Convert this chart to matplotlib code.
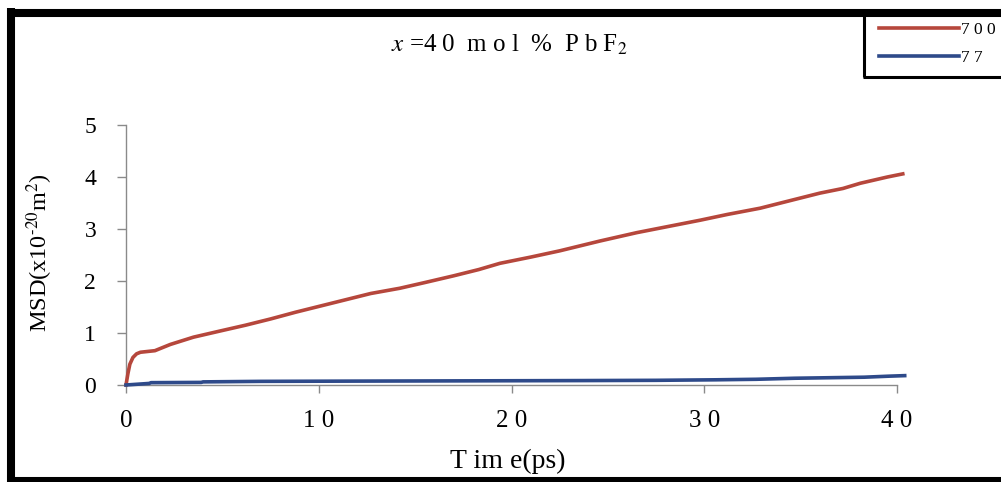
import numpy as np
import matplotlib
matplotlib.use('Agg')
import matplotlib.pyplot as plt
from matplotlib.lines import Line2D

plt.rcParams['font.family'] = ['Liberation Serif', 'DejaVu Serif']
plt.rcParams['mathtext.fontset'] = 'stix'

# MSD curves
t_700 = [0, 0.1, 0.2, 0.36, 0.55, 0.75, 1.0, 1.5, 2.3, 3.5, 4.9, 6.2, 7.5, 8.8,
         10.1, 11.4, 12.7, 14.2, 15.5, 17.0, 18.3, 19.4, 21.0, 22.5, 24.6, 26.5,
         28.7, 29.8, 31.2, 32.9, 34.5, 36.0, 37.2, 38.1, 39.5, 40.3]
msd_700 = [0, 0.22, 0.40, 0.53, 0.60, 0.63, 0.64, 0.66, 0.78, 0.92, 1.04, 1.15,
           1.27, 1.40, 1.52, 1.64, 1.76, 1.86, 1.97, 2.10, 2.22, 2.34, 2.46,
           2.58, 2.77, 2.93, 3.09, 3.17, 3.28, 3.40, 3.55, 3.69, 3.78, 3.88,
           4.00, 4.06]

t_77 = [0, 1.2, 1.3, 3.9, 4.0, 7.0, 12.0, 17.9, 23.6, 27.5, 30.6, 32.7, 34.7,
        36.5, 38.3, 39.6, 40.4]
msd_77 = [0.0, 0.03, 0.045, 0.05, 0.06, 0.07, 0.075, 0.08, 0.085, 0.09, 0.10,
          0.11, 0.13, 0.14, 0.15, 0.17, 0.18]

series_labels = ['700', '77']
series_colors = ['#b6473c', '#2e4a8a']
x_ticks = [0, 10, 20, 30, 40]
y_ticks = [0, 1, 2, 3, 4, 5]

W, H = 1001, 482
fig = plt.figure(figsize=(W / 100., H / 100.), dpi=100)
ax = fig.add_axes([126. / W, 1 - 385. / H, 771. / W, 260. / H])

lines = []
for t, m, lab, col in zip([t_700, t_77], [msd_700, msd_77], series_labels, series_colors):
    ln, = ax.plot(t, m, color=col, lw=2.6, label=lab, clip_on=False, zorder=3)
    lines.append(ln)

ax.set_xlim(0, 40)
ax.set_ylim(0, 5)
ax.set_xticks(x_ticks)
ax.set_xticklabels([' '.join(str(v)) for v in x_ticks])
ax.set_yticks(y_ticks)
for s in ['top', 'right']:
    ax.spines[s].set_visible(False)
for s in ['left', 'bottom']:
    ax.spines[s].set_color('#8a8a8a')
    ax.spines[s].set_linewidth(1.0)
ax.tick_params(axis='y', direction='out', length=6.5, width=1, color='#8a8a8a',
               pad=15, labelsize=17)
ax.tick_params(axis='x', direction='out', length=6, width=1, color='#8a8a8a',
               pad=12, labelsize=18)

ax.set_xlabel('T im e(ps)', fontsize=20)
ax.xaxis.set_label_coords((508 - 126) / 771., (385 - 461) / 260.)
ax.xaxis.label.set_va('center')
ax.set_ylabel(r'MSD(x10$^{\text{-20}}$m$^{2}$)', fontsize=17.5)
ax.yaxis.set_label_coords((40 - 126) / 771., (385 - 253) / 260.)
ax.yaxis.label.set_va('center')

fig.text(509. / W, 1 - 45. / H, r'$x$ =4 0  m o l  %  P b F$_2$', fontsize=18,
         ha='center', va='center')

# outer frame (cut off on the right)
k = dict(color='black', lw=5.8, transform=fig.transFigure, solid_capstyle='butt')
fig.add_artist(Line2D([11. / W, 11. / W], [0, 1 - 8. / H], **k))
fig.add_artist(Line2D([7. / W, 1], [1 - 12.5 / H, 1 - 12.5 / H], **k))
fig.add_artist(Line2D([7. / W, 1], [1 - 480.5 / H, 1 - 480.5 / H], **k))

# legend box hanging from the top frame
k2 = dict(color='black', lw=2.2, transform=fig.transFigure, solid_capstyle='butt')
fig.add_artist(Line2D([863.5 / W, 863.5 / W], [1 - 15. / H, 1 - 77. / H], **k2))
fig.add_artist(Line2D([862.5 / W, 1], [1 - 77. / H, 1 - 77. / H], **k2))
leg = fig.legend(lines, [' '.join(l) for l in series_labels],
                 loc='upper left', bbox_to_anchor=(879. / W, 1 - 22. / H),
                 frameon=False, fontsize=12.5, handlelength=4.6,
                 handletextpad=0.12, labelspacing=0.65, borderpad=0.0,
                 borderaxespad=0)

fig.savefig('out.png', dpi=100)
